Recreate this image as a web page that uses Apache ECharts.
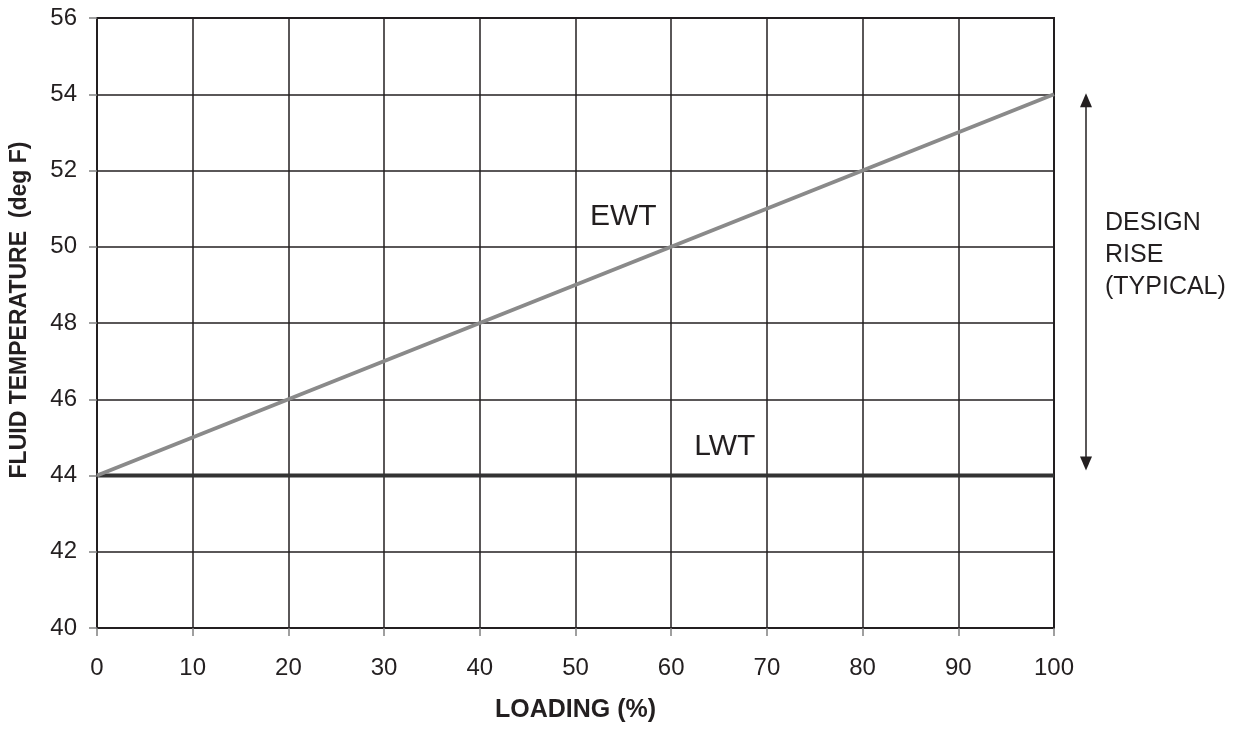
<!DOCTYPE html>
<html><head><meta charset="utf-8">
<script src="https://cdn.jsdelivr.net/npm/echarts@6/dist/echarts.min.js"></script>
<style>html,body{margin:0;padding:0;background:#fff}#c{width:1243px;height:732px}</style>
</head><body><div id="c"></div>
<script>
const loading = [0, 100];
const ewt = [44, 54];
const lwt = [44, 44];
const xTicks = [0,10,20,30,40,50,60,70,80,90,100];
const yTicks = [40,42,44,46,48,50,52,54,56];
const labels = [
  {text: 'EWT', x: 55, y: 50.8},
  {text: 'LWT', x: 65.6, y: 44.75}
];
const riseNote = 'DESIGN\nRISE\n(TYPICAL)';
const font = 'Liberation Sans, Arial, sans-serif';

const chart = echarts.init(document.getElementById('c'), null, {renderer: 'canvas'});
chart.setOption({
  animation: false,
  backgroundColor: '#fff',
  grid: {left: 97, right: 189, top: 18, bottom: 104, show: true, borderColor: '#231f20', borderWidth: 2,
         containLabel: false, outerBoundsMode: 'none'},
  xAxis: {
    type: 'value', min: 0, max: 100, interval: 10,
    name: 'LOADING (%)', nameLocation: 'middle', nameGap: 70,
    nameTextStyle: {fontFamily: font, fontWeight: 'bold', fontSize: 25, color: '#231f20'},
    axisLine: {lineStyle: {color: '#231f20', width: 2}},
    axisTick: {show: true, inside: false, length: 8, lineStyle: {color: '#808080', width: 1.5}},
    axisLabel: {fontFamily: font, fontSize: 24, color: '#231f20', margin: 28},
    splitLine: {show: true, lineStyle: {color: '#231f20', width: 1.5}}
  },
  yAxis: {
    type: 'value', min: 40, max: 56, interval: 2,
    name: 'FLUID TEMPERATURE  (deg F)', nameLocation: 'middle', nameGap: 66,
    nameTextStyle: {fontFamily: font, fontWeight: 'bold', fontSize: 23, color: '#231f20', padding: [0, 0, 0, 26]},
    axisLine: {lineStyle: {color: '#231f20', width: 2}},
    axisTick: {show: true, inside: false, length: 8, lineStyle: {color: '#808080', width: 1.5}},
    axisLabel: {fontFamily: font, fontSize: 24, color: '#231f20', margin: 20},
    splitLine: {show: true, lineStyle: {color: '#231f20', width: 1.5}}
  },
  series: [
    {type: 'line', data: loading.map((x,i)=>[x, lwt[i]]), symbol: 'none',
     lineStyle: {color: '#333333', width: 4}, z: 3},
    {type: 'line', data: loading.map((x,i)=>[x, ewt[i]]), symbol: 'none',
     lineStyle: {color: '#8a8a8a', width: 4}, z: 4}
  ]
});

function drawGraphics(){
  const g = [];
  labels.forEach(l => {
    const p = chart.convertToPixel({gridIndex: 0}, [l.x, l.y]);
    g.push({type: 'text', x: p[0], y: p[1], z: 10,
      style: {text: l.text, fontFamily: font, fontSize: 30, fill: '#231f20', align: 'center', verticalAlign: 'middle'}});
  });
  const top = chart.convertToPixel({gridIndex: 0}, [100, ewt[1]]);
  const bot = chart.convertToPixel({gridIndex: 0}, [100, lwt[1]]);
  const ax = top[0] + 32;
  const y1 = top[1] - 1, y2 = bot[1] - 5;
  g.push({type: 'line', shape: {x1: ax, y1: y1 + 12, x2: ax, y2: y2 - 12}, style: {stroke: '#231f20', lineWidth: 1.5}});
  g.push({type: 'polygon', shape: {points: [[ax, y1], [ax-6, y1+14], [ax+6, y1+14]]}, style: {fill: '#231f20'}});
  g.push({type: 'polygon', shape: {points: [[ax, y2], [ax-6, y2-14], [ax+6, y2-14]]}, style: {fill: '#231f20'}});
  const mid = (top[1] + bot[1]) / 2;
  g.push({type: 'text', x: ax + 19, y: mid - 30, style: {text: riseNote, fontFamily: font, fontSize: 25, lineHeight: 32, fill: '#231f20', align: 'left', verticalAlign: 'middle'}});
  chart.setOption({graphic: g});
}
drawGraphics();
</script></body></html>
